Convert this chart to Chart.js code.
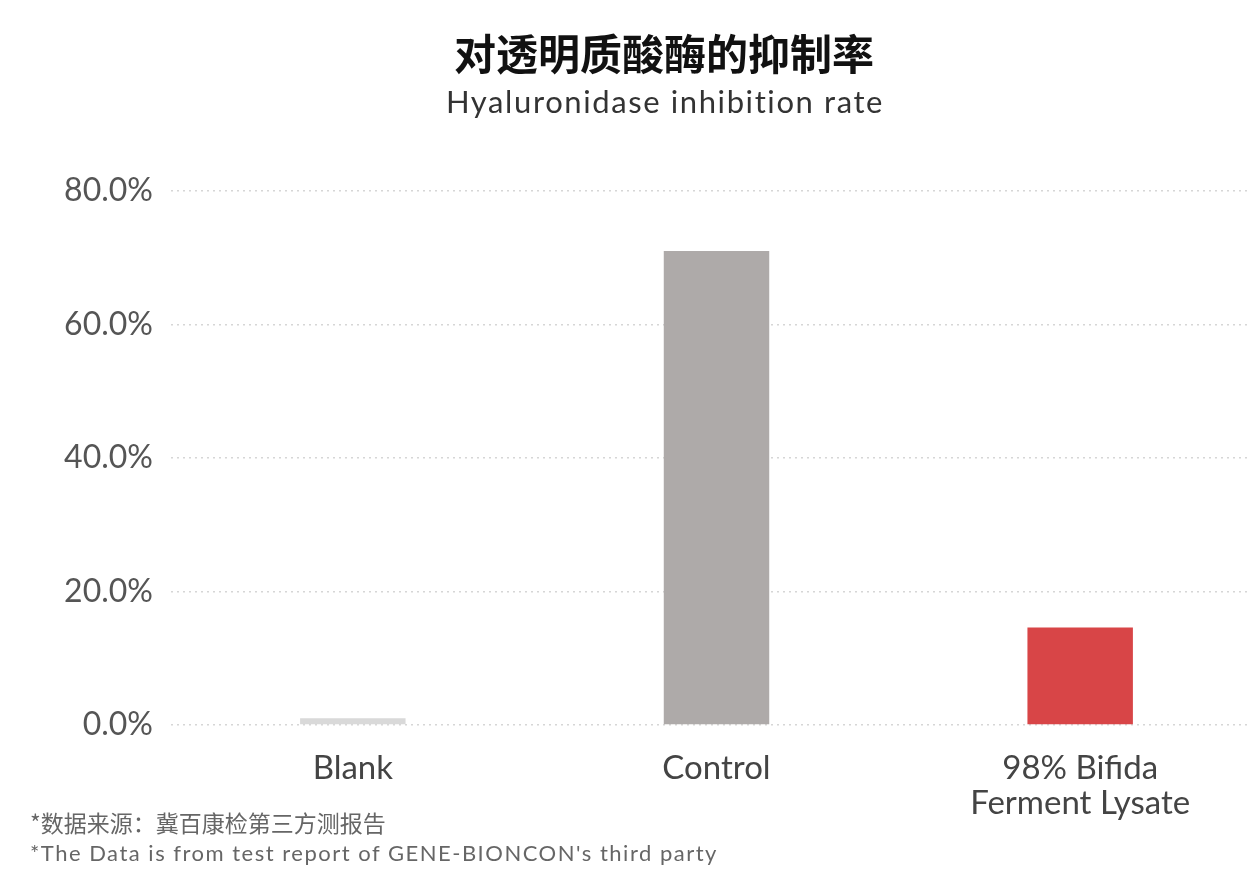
<!DOCTYPE html>
<html>
<head>
<meta charset="utf-8">
<script src="https://cdn.jsdelivr.net/npm/chart.js@4.4.1/dist/chart.umd.min.js"></script>
<style>
html, body { margin:0; padding:0; width:1251px; height:869px; overflow:hidden; background:#fff; }
#wrap { position:relative; width:1262px; height:869px; }
canvas { position:absolute; left:0; top:0; }
.t { position:absolute; white-space:nowrap; }
#title { left:0; width:1328px; text-align:center; top:21px; font:bold 42px "Noto Sans CJK SC", sans-serif; color:#111; }
#sub { left:0; width:1330px; text-align:center; top:82px; font:31px Lato, "Noto Sans", sans-serif; letter-spacing:1.6px; color:#333; }
#fn1 { left:30px; top:805px; font:23px "Noto Sans CJK SC", sans-serif; color:#666; }
#fn2 { left:30px; top:839px; font:22px Lato, "Noto Sans", sans-serif; letter-spacing:1.5px; color:#666; }
</style>
</head>
<body>
<div id="wrap">
<canvas id="c" width="1262" height="869"></canvas>
<div class="t" id="title">对透明质酸酶的抑制率</div>
<div class="t" id="sub">Hyaluronidase inhibition rate</div>
<div class="t" id="fn1">*数据来源：冀百康检第三方测报告</div>
<div class="t" id="fn2">*The Data is from test report of GENE-BIONCON's third party</div>
</div>
<script>
const categories = ["Blank", "Control", ["98% Bifida", "Ferment Lysate"]];
const inhibitionRate = [1.0, 71.0, 14.6];
const barColors = ["#d9d9d9", "#aeaaa9", "#d84547"];
const yTicks = [0, 20, 40, 60, 80];

new Chart(document.getElementById('c'), {
  type: 'bar',
  data: {
    labels: categories,
    datasets: [{
      data: inhibitionRate,
      backgroundColor: barColors,
      borderWidth: 0,
      barPercentage: 0.29,
      categoryPercentage: 1.0
    }]
  },
  options: {
    responsive: false,
    animation: false,
    layout: { padding: { top: 191, left: 0, right: 0, bottom: 22 } },
    plugins: { legend: { display: false }, tooltip: { enabled: false } },
    scales: {
      y: {
        min: 0, max: 80,
        afterBuildTicks: s => { s.ticks = yTicks.map(v => ({ value: v })); },
        afterFit: s => { s.width = 171; },
        ticks: {
          padding: 18,
          color: '#555',
          font: { family: 'Lato, "Noto Sans", sans-serif', size: 32 },
          callback: v => v.toFixed(1) + '%'
        },
        grid: { color: '#d6d6d6', lineWidth: 1.5, drawTicks: false },
        border: { display: false, dash: [2, 4] }
      },
      x: {
        ticks: {
          padding: 26,
          color: '#444',
          font: { family: 'Lato, "Noto Sans", sans-serif', size: 33, lineHeight: 1.06 }
        },
        grid: { display: false, drawTicks: false },
        border: { display: false }
      }
    }
  }
});
</script>
</body>
</html>
